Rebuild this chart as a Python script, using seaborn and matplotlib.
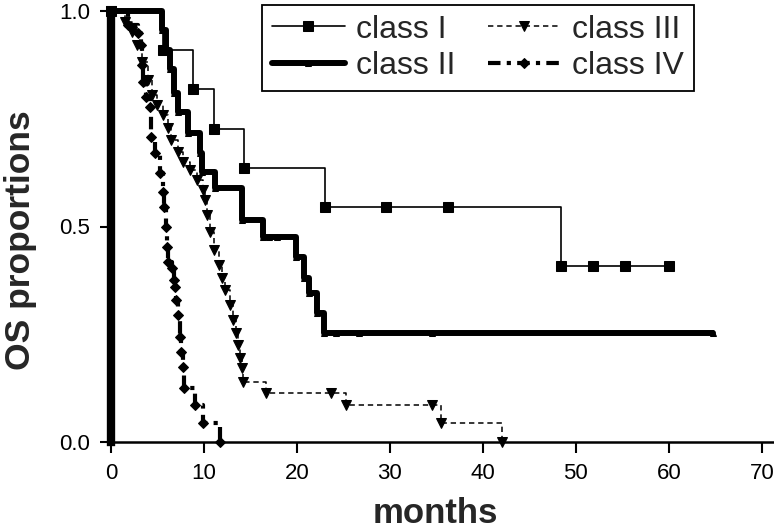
import numpy as np
import pandas as pd
import seaborn as sns
import matplotlib
matplotlib.use("Agg")
import matplotlib.pyplot as plt

# Kaplan-Meier points: months, OS proportion (censored points included)
class1_months = [0, 5.6, 8.8, 11.1, 14.3, 23.0, 29.6, 36.2, 48.4, 51.8, 55.3, 60.0]
class1_os = [1.0, 0.909, 0.818, 0.727, 0.636, 0.545, 0.545, 0.545, 0.409, 0.409, 0.409, 0.409]

class2_months = [0, 5.5, 5.9, 6.3, 6.8, 7.2, 8.3, 9.6, 9.8, 11.2, 14.1, 16.3, 17.0, 17.8,
                 19.9, 20.8, 21.3, 22.1, 22.9, 24.2, 26.7, 34.5, 64.7]
class2_os = [1.0, 0.955, 0.91, 0.865, 0.81, 0.765, 0.717, 0.67, 0.626, 0.589, 0.515, 0.476, 0.476, 0.476,
             0.429, 0.381, 0.346, 0.30, 0.253, 0.253, 0.253, 0.253, 0.253]

class3_months = [0, 1.5, 2.25, 2.8, 3.3, 4.0, 4.4, 5.0, 5.6, 6.1, 6.5, 7.2, 7.7, 8.5, 9.2, 9.9,
                 10.1, 10.3, 10.6, 11.1, 11.6, 11.9, 12.3, 12.75, 13.1, 13.4, 13.7, 13.9, 14.1, 14.15,
                 16.7, 23.7, 25.3, 34.5, 35.5, 42.0]
class3_os = [1.0, 0.974, 0.951, 0.921, 0.882, 0.84, 0.805, 0.782, 0.759, 0.729, 0.701, 0.673, 0.65, 0.631, 0.608, 0.585,
             0.561, 0.527, 0.487, 0.445, 0.411, 0.381, 0.353, 0.318, 0.283, 0.253, 0.225, 0.195, 0.172, 0.139,
             0.114, 0.114, 0.086, 0.086, 0.043, 0.0]

class4_months = [0, 1.8, 2.9, 3.2, 3.3, 3.4, 3.8, 4.2, 4.3, 4.7, 5.25, 5.6, 5.65, 5.9, 6.0, 6.1, 6.6,
                 6.8, 6.9, 7.0, 7.2, 7.4, 7.5, 7.7, 7.9, 9.0, 9.9, 11.7]
class4_os = [1.0, 0.967, 0.949, 0.92, 0.875, 0.835, 0.80, 0.777, 0.708, 0.67, 0.624, 0.58, 0.545, 0.499, 0.452, 0.418, 0.404,
             0.376, 0.36, 0.33, 0.295, 0.244, 0.209, 0.174, 0.125, 0.086, 0.044, 0.0]

names = ["class I", "class II", "class III", "class IV"]
series = [(class1_months, class1_os), (class2_months, class2_os),
          (class3_months, class3_os), (class4_months, class4_os)]

df = pd.concat([pd.DataFrame({"months": m, "os": s, "group": n})
                for n, (m, s) in zip(names, series)], ignore_index=True)

styles = {
    "class I": dict(lw=1.2, marker="s", ms=7.5, dashes=None),
    "class II": dict(lw=4.3, marker="^", ms=4.5, dashes=None),
    "class III": dict(lw=1.1, marker="v", ms=7, dashes=(3.5, 2.5)),
    "class IV": dict(lw=3.0, marker="D", ms=5.5, dashes=(3, 1.5, 1, 1.5)),
}

sns.set_style("ticks")
plt.rcParams['font.family'] = ['Liberation Sans', 'DejaVu Sans']

fig = plt.figure(figsize=(7.74, 5.31), dpi=100)
ax = fig.add_axes([111 / 774, 89 / 531, 663 / 774, 431 / 531])

for n in names:
    st = styles[n]
    sub = df[df.group == n]
    kw = dict(drawstyle="steps-post", color="black", lw=st["lw"], marker=st["marker"],
              markersize=st["ms"], markeredgecolor="black", markerfacecolor="black",
              estimator=None, sort=False, label=n, ax=ax, clip_on=False)
    line = sns.lineplot(data=sub, x="months", y="os", **kw).lines[-1]
    if st["dashes"] is not None:
        line.set_dashes(st["dashes"])

ax.set_xlim(0, 71.3)
ax.set_ylim(0, 1.0)
ax.set_xticks(range(0, 71, 10))
ax.set_yticks([0, 0.5, 1.0])
ax.set_yticklabels(["0.0", "0.5", "1.0"])
ax.tick_params(axis="both", labelsize=16, length=8, width=1.5, colors="black", pad=7)
sns.despine(ax=ax)
ax.spines["left"].set_linewidth(6)
ax.spines["bottom"].set_linewidth(1.8)
ax.spines["left"].set_color("black")
ax.spines["bottom"].set_color("black")

ax.set_xlabel("months", fontsize=25, fontweight="bold")
ax.set_ylabel("OS proportions", fontsize=25.5, fontweight="bold")
ax.xaxis.set_label_coords(0.489, -0.128)
ax.yaxis.set_label_coords(-0.112, 0.469)

leg = ax.legend(loc="upper left", bbox_to_anchor=(262 / 774, 1 - 5 / 531),
                bbox_transform=fig.transFigure, ncol=2, fontsize=23, frameon=True,
                fancybox=False, edgecolor="black", borderaxespad=0, handlelength=2.3,
                handletextpad=0.35, columnspacing=1.0, labelspacing=0.2, borderpad=0.3)
leg.get_frame().set_linewidth(1.3)
leg.get_frame().set_alpha(1)

fig.savefig("out.png", dpi=100, facecolor="white")
